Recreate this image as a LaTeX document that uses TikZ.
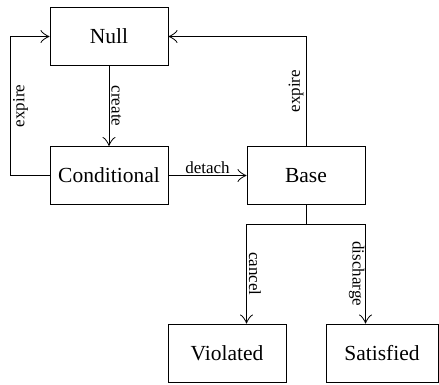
\documentclass[tikz,border=0pt]{standalone}
\usepackage{fontspec}
\setmainfont{Liberation Serif}
\usetikzlibrary{positioning,arrows.meta,calc}

\tikzset{
  state/.style={rectangle, draw, line width=1pt, minimum height=58pt, inner sep=0pt,
    font=\fontsize{21.5}{24}\selectfont},
  arr/.style={draw, line width=1pt, -{Classical TikZ Rightarrow[length=9pt,width=13pt]}},
  lbl/.style={font=\fontsize{17}{19}\selectfont, inner sep=2pt}
}

\begin{document}
\begin{tikzpicture}[x=1pt,y=-1pt]
        \useasboundingbox (0,0) rectangle (439,384);
        \node [state, minimum width=118pt] (null) at (109,36.5) {Null};
        \node [state, minimum width=118pt] (conditional) at (109,175.5) {Conditional};
        \node [state, minimum width=118pt] (base) at (306,175.5) {Base};
        \node [state, minimum width=118pt] (violated) at (227,353) {Violated};
        \node [state, minimum width=112pt] (satisfied) at (382,353) {Satisfied};

        \draw [arr] (null) -- node [lbl, rotate=-90, anchor=south] {create} (conditional);
        \draw [arr] (conditional.west) -- ++(-39,0) |- node [lbl, pos=0.25, rotate=90, anchor=north] {expire} (null.west);
        \draw [arr] (base.north) |- node [lbl, pos=0.25, rotate=90, anchor=south] {expire} (null.east);
        \draw [arr] (conditional) -- node [lbl, above, inner sep=1pt] {detach} (base);
        \draw [line width=1pt] (base.south) -- ++(0,19) coordinate (fork);
        \draw [arr] (fork) -| node [lbl, pos=0.75, rotate=-90, anchor=south] {cancel} (base.west |- violated.north);
        \draw [arr] (fork) -| node [lbl, pos=0.75, rotate=-90, anchor=north, inner sep=0.5pt] {discharge} (base.east |- satisfied.north);
    \end{tikzpicture}
\end{document}
